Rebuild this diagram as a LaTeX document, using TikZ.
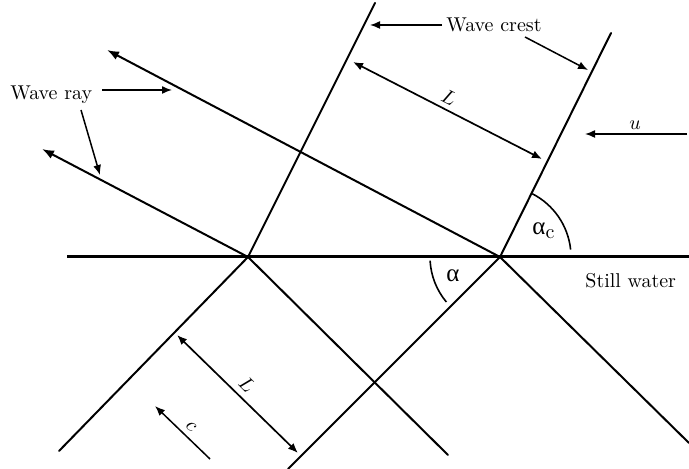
\documentclass[tikz,border=0pt]{standalone}
\usepackage{fontspec}
\newfontfamily\grk{Liberation Serif}
\usetikzlibrary{arrows.meta}
\begin{document}
\begin{tikzpicture}[x=0.5pt,y=-0.5pt,
  wline/.style={line width=1pt, line cap=round},
  baseline/.style={line width=1.5pt},
  ray/.style={line width=1pt, -{Latex[length=6pt,width=4.5pt]}},
  ptr/.style={line width=0.75pt, -{Latex[length=5pt,width=4pt]}},
  dim/.style={line width=0.85pt, {Latex[length=5pt,width=4pt]}-{Latex[length=5pt,width=4pt]}},
  lbl/.style={inner sep=0pt, font=\fontsize{10}{12}\selectfont},
  glbl/.style={inner sep=0pt, font=\fontsize{12.5}{14}\selectfont\grk}]
\useasboundingbox (0,0) rectangle (689,469);
% key points
\coordinate (HL) at (67,257);
\coordinate (HR) at (689,257);
\coordinate (P1) at (248,257);
\coordinate (P2) at (500,257);
\coordinate (C1t) at (375,3);
\coordinate (C1b) at (59,451);
\coordinate (C2t) at (611,33);
\coordinate (C2b) at (288,469);
\coordinate (R1t) at (42,149);
\coordinate (R1b) at (448,455);
\coordinate (R2t) at (107,50);
\coordinate (R2b) at (689,443);
% still water line
\draw[baseline] (HL) -- (HR);
% wave crests
\draw[wline] (C1t) -- (P1) -- (C1b);
\draw[wline] (C2t) -- (P2) -- (C2b);
% wave rays
\draw[ray] (P1) -- (R1t);
\draw[wline] (P1) -- (R1b);
\draw[ray] (P2) -- (R2t);
\draw[wline] (P2) -- (R2b);
% labels
\node[lbl, anchor=base west] (wr) at (10,100) {Wave ray};
\node[lbl, anchor=base west] (wc) at (446,32) {Wave crest};
\node[lbl, anchor=base west] (sw) at (585,288) {Still water};
\node[lbl] (Lu) at (449,98) [rotate=-27] {$L$};
\node[lbl] (Ll) at (247,384) [rotate=-45] {$L$};
\node[lbl] (cl) at (191,427) [rotate=-45] {$c$};
\node[lbl, anchor=base] (ul) at (635,130) {$u$};
\node[glbl, anchor=base west] (ac) at (532,235) {α\textsubscript{\normalfont\fontsize{10}{12}\selectfont c}};
\node[glbl, anchor=base west] (al) at (446,282) {α};
% pointer arrows
\coordinate (wrA0) at (102,90);  \coordinate (wrA1) at (172,90);
\coordinate (wrB0) at (81,110);  \coordinate (wrB1) at (100,175);
\coordinate (wcA0) at (442,25);  \coordinate (wcA1) at (370,25);
\coordinate (wcB0) at (525,37);  \coordinate (wcB1) at (588,70);
\coordinate (u0) at (687,134);   \coordinate (u1) at (585,134);
\coordinate (c0) at (210,459);   \coordinate (c1) at (155,406);
\draw[ptr] (wrA0) -- (wrA1);
\draw[ptr] (wrB0) -- (wrB1);
\draw[ptr] (wcA0) -- (wcA1);
\draw[ptr] (wcB0) -- (wcB1);
\draw[ptr] (u0) -- (u1);
\draw[ptr] (c0) -- (c1);
% wavelength dimensions
\coordinate (Lu0) at (353,62);   \coordinate (Lu1) at (542,159);
\coordinate (Ll0) at (177,335);  \coordinate (Ll1) at (298,453);
\draw[dim] (Lu0) -- (Lu1);
\draw[dim] (Ll0) -- (Ll1);
% angle arcs
\draw[line width=0.8pt] (P2) ++(-6:71) arc[start angle=-6, end angle=-63, radius=71];
\draw[line width=0.8pt] (P2) ++(-183:70) arc[start angle=-183, end angle=-220, radius=70];
\end{tikzpicture}
\end{document}
